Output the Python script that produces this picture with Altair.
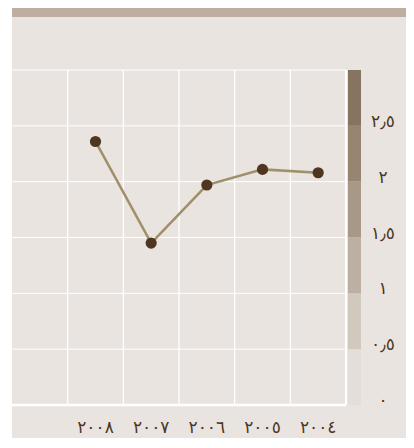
import altair as alt
import pandas as pd

# ---- data ----
years = [2008, 2007, 2006, 2005, 2004]
values = [2.36, 1.45, 1.97, 2.11, 2.08]
year_labels = ["٢٠٠٨", "٢٠٠٧", "٢٠٠٦", "٢٠٠٥", "٢٠٠٤"]

y_ticks = [0, 0.5, 1, 1.5, 2, 2.5]
y_tick_labels = ["٠", "٠٫٥", "١", "١٫٥", "٢", "٢٫٥"]

band_lo = [0, 0.5, 1, 1.5, 2, 2.5]
band_hi = [0.5, 1, 1.5, 2, 2.5, 3]
band_colors = ["#e3ded9", "#d2c9be", "#bdb0a3", "#a89888", "#978572", "#857460"]

h_grid = [0.5, 1, 1.5, 2, 2.5, 3]
v_grid = [2008.5, 2007.5, 2006.5, 2005.5, 2004.5]

# ---- styling ----
W, H = 334, 335
BG = "#e9e4e0"
TOPBAR = "#bdaea0"
TEXT = "#4b3621"
LINE = "#a0906a"
DOT = "#4e3620"
FONT = "DejaVu Sans"
FS = 17

df = pd.DataFrame({"year": years, "value": values})
xl_df = pd.DataFrame({"year": years, "label": year_labels})
yl_df = pd.DataFrame({"v": y_ticks, "label": y_tick_labels})
band_df = pd.DataFrame({"lo": band_lo, "hi": band_hi, "c": band_colors})
hg_df = pd.DataFrame({"v": h_grid})
vg_df = pd.DataFrame({"x": v_grid})
one = pd.DataFrame({"k": [0]})

xscale = alt.Scale(domain=[2003.5, 2009.5], reverse=True, nice=False, zero=False)
yscale = alt.Scale(domain=[0, 3], nice=False, zero=True)

background = alt.Chart(one).mark_rect(color=BG).encode(
    x=alt.value(0), x2=alt.value(394), y=alt.value(-62), y2=alt.value(372)
)
topbar = alt.Chart(one).mark_rect(color=TOPBAR).encode(
    x=alt.value(0), x2=alt.value(394), y=alt.value(-62), y2=alt.value(-53)
)

band = alt.Chart(band_df).mark_rect().encode(
    x=alt.value(336),
    x2=alt.value(349),
    y=alt.Y("lo:Q", scale=yscale, axis=None),
    y2="hi:Q",
    color=alt.Color("c:N", scale=None),
)

hgrid = alt.Chart(hg_df).mark_rule(color="white", strokeWidth=1).encode(
    y=alt.Y("v:Q", scale=yscale, axis=None)
)
vgrid = alt.Chart(vg_df).mark_rule(color="white", strokeWidth=1.3).encode(
    x=alt.X("x:Q", scale=xscale, axis=None)
)
bottom = alt.Chart(one).mark_rule(color="white", strokeWidth=2.3).encode(
    y=alt.datum(0, scale=yscale, axis=None)
)
right = alt.Chart(one).mark_rule(color="white", strokeWidth=2).encode(
    x=alt.datum(2003.5, scale=xscale, axis=None)
)

line = alt.Chart(df).mark_line(color=LINE, strokeWidth=2.5).encode(
    x=alt.X("year:Q", scale=xscale, axis=None), y=alt.Y("value:Q", scale=yscale, axis=None)
)
points = alt.Chart(df).mark_point(
    filled=True, color=DOT, size=125, opacity=1, shape="circle"
).encode(x=alt.X("year:Q", scale=xscale, axis=None), y=alt.Y("value:Q", scale=yscale, axis=None))

x_labels = alt.Chart(xl_df).mark_text(
    font=FONT, fontSize=FS, color=TEXT, baseline="alphabetic", align="center"
).encode(
    x=alt.X("year:Q", scale=xscale, axis=None),
    y=alt.value(H + 28),
    text="label:N",
)
y_labels = alt.Chart(yl_df).mark_text(
    font=FONT, fontSize=FS, color=TEXT, baseline="alphabetic", align="center", dy=1
).encode(
    y=alt.Y("v:Q", scale=yscale, axis=None),
    x=alt.value(W + 37),
    text="label:N",
)

chart = alt.layer(
    background, topbar, band, hgrid, vgrid, bottom, right, line, points, x_labels, y_labels
).properties(
    width=W,
    height=H,
    background="white",
    padding={"left": 4, "top": 62, "right": 60, "bottom": 33},
    autosize=alt.AutoSizeParams(type="none"),
).configure_view(stroke=None)

chart.save("out.html", embed_options={"renderer": "svg", "actions": False})
